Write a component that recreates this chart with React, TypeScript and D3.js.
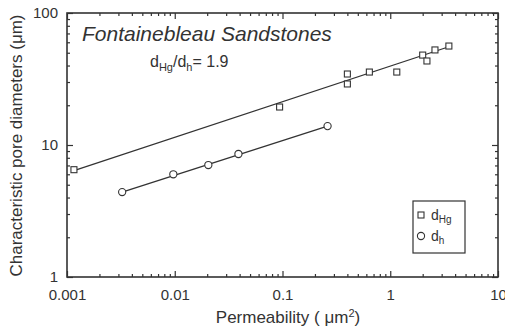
import { useEffect, useRef } from "react";
import * as d3 from "d3";

// d_Hg (squares), permeability in um^2 vs pore diameter in um
const hgPerm = [0.00116, 0.094, 0.4, 0.4, 0.64, 1.15, 2.0, 2.19, 2.6, 3.5];
const hgDiam = [6.5, 19.4, 34.5, 29.0, 35.7, 35.7, 48, 43.3, 52.5, 56.2];

// d_h (circles)
const hPerm = [0.00325, 0.0097, 0.0205, 0.039, 0.262];
const hDiam = [4.4, 6.0, 7.05, 8.55, 13.9];

// fitted lines, end points
const hgFitPerm = [0.00116, 3.5];
const hgFitDiam = [6.4, 55.5];
const hFitPerm = [0.00325, 0.262];
const hFitDiam = [4.4, 13.9];

const xTicks = [0.001, 0.01, 0.1, 1, 10];
const xTickLabels = ["0.001", "0.01", "0.1", "1", "10"];
const yTicks = [1, 10, 100];
const yTickLabels = ["1", "10", "100"];

const INK = "#333";
const FONT = "'Liberation Sans', Arial, sans-serif";

function minorTicks(lo: number, hi: number) {
  const out: number[] = [];
  for (let p = lo; p < hi; p *= 10) {
    for (let k = 2; k <= 9; k++) out.push(p * k);
  }
  return out;
}

export default function App() {
  const svgRef = useRef<SVGSVGElement>(null);

  useEffect(() => {
    if (!svgRef.current) return;
    const svg = d3.select(svgRef.current);
    svg.selectAll("*").remove();

    const left = 67;
    const right = 498;
    const top = 13;
    const bottom = 277;

    const x = d3.scaleLog().domain([0.001, 10]).range([left, right]);
    const y = d3.scaleLog().domain([1, 100]).range([bottom, top]);

    svg.append("rect").attr("width", 505).attr("height", 335).attr("fill", "#fff");

    const xMinor = minorTicks(0.001, 10);
    const yMinor = minorTicks(1, 100);

    const styleAxis = (sel: any) => {
      sel.select(".domain").remove();
      sel.selectAll("line").attr("stroke", INK).attr("stroke-width", 1.2);
      sel.selectAll("text")
        .attr("fill", INK)
        .attr("font-family", FONT)
        .attr("font-size", 15);
    };

    // bottom
    svg.append("g")
      .attr("transform", `translate(0,${bottom})`)
      .call(
        d3.axisBottom(x).tickValues(xTicks).tickSizeInner(-6).tickSizeOuter(0).tickPadding(12)
          .tickFormat((_, i) => xTickLabels[i])
      )
      .call(styleAxis);
    svg.append("g")
      .attr("transform", `translate(0,${bottom})`)
      .call(d3.axisBottom(x).tickValues(xMinor).tickSizeInner(-3).tickSizeOuter(0).tickFormat(() => ""))
      .call(styleAxis);
    // top
    svg.append("g")
      .attr("transform", `translate(0,${top})`)
      .call(d3.axisTop(x).tickValues(xTicks).tickSizeInner(-6).tickSizeOuter(0).tickFormat(() => ""))
      .call(styleAxis);
    svg.append("g")
      .attr("transform", `translate(0,${top})`)
      .call(d3.axisTop(x).tickValues(xMinor).tickSizeInner(-3).tickSizeOuter(0).tickFormat(() => ""))
      .call(styleAxis);
    // left
    svg.append("g")
      .attr("transform", `translate(${left},0)`)
      .call(
        d3.axisLeft(y).tickValues(yTicks).tickSizeInner(-6).tickSizeOuter(0).tickPadding(9)
          .tickFormat((_, i) => yTickLabels[i])
      )
      .call(styleAxis);
    svg.append("g")
      .attr("transform", `translate(${left},0)`)
      .call(d3.axisLeft(y).tickValues(yMinor).tickSizeInner(-3).tickSizeOuter(0).tickFormat(() => ""))
      .call(styleAxis);
    // right
    svg.append("g")
      .attr("transform", `translate(${right},0)`)
      .call(d3.axisRight(y).tickValues(yTicks).tickSizeInner(-6).tickSizeOuter(0).tickFormat(() => ""))
      .call(styleAxis);
    svg.append("g")
      .attr("transform", `translate(${right},0)`)
      .call(d3.axisRight(y).tickValues(yMinor).tickSizeInner(-3).tickSizeOuter(0).tickFormat(() => ""))
      .call(styleAxis);

    // frame
    svg.append("rect")
      .attr("x", left)
      .attr("y", top)
      .attr("width", right - left)
      .attr("height", bottom - top)
      .attr("fill", "none")
      .attr("stroke", INK)
      .attr("stroke-width", 1.6);

    // fit lines
    const line = d3.line<[number, number]>().x((d) => x(d[0])).y((d) => y(d[1]));
    const hgFit = hgFitPerm.map((p, i) => [p, hgFitDiam[i]] as [number, number]);
    const hFit = hFitPerm.map((p, i) => [p, hFitDiam[i]] as [number, number]);
    svg.append("path").attr("d", line(hgFit)).attr("fill", "none").attr("stroke", INK).attr("stroke-width", 1.3);
    svg.append("path").attr("d", line(hFit)).attr("fill", "none").attr("stroke", INK).attr("stroke-width", 1.3);

    // markers
    const sq = 6;
    svg.append("g")
      .selectAll("rect")
      .data(hgPerm.map((p, i) => [p, hgDiam[i]]))
      .join("rect")
      .attr("x", (d) => x(d[0]) - sq / 2)
      .attr("y", (d) => y(d[1]) - sq / 2)
      .attr("width", sq)
      .attr("height", sq)
      .attr("fill", "#fff")
      .attr("stroke", INK)
      .attr("stroke-width", 1.1);

    svg.append("g")
      .selectAll("circle")
      .data(hPerm.map((p, i) => [p, hDiam[i]]))
      .join("circle")
      .attr("cx", (d) => x(d[0]))
      .attr("cy", (d) => y(d[1]))
      .attr("r", 3.6)
      .attr("fill", "#fff")
      .attr("stroke", INK)
      .attr("stroke-width", 1.1);

    // title
    svg.append("text")
      .attr("x", 82)
      .attr("y", 41)
      .attr("font-family", FONT)
      .attr("font-style", "italic")
      .attr("font-size", 21)
      .attr("fill", INK)
      .text("Fontainebleau Sandstones");

    const ratio = svg.append("text")
      .attr("x", 150)
      .attr("y", 67)
      .attr("font-family", FONT)
      .attr("font-size", 16)
      .attr("fill", INK);
    ratio.append("tspan").text("d");
    ratio.append("tspan").attr("font-size", 11).attr("dy", 4).text("Hg");
    ratio.append("tspan").attr("dy", -4).text("/d");
    ratio.append("tspan").attr("font-size", 11).attr("dy", 4).text("h");
    ratio.append("tspan").attr("dy", -4).text("= 1.9");

    // axis titles
    svg.append("text")
      .attr("transform", `translate(22,${(8 + 283) / 2}) rotate(-90)`)
      .attr("text-anchor", "middle")
      .attr("font-family", FONT)
      .attr("font-size", 17)
      .attr("fill", INK)
      .text("Characteristic pore diameters (μm)");

    const xt = svg.append("text")
      .attr("x", 288)
      .attr("y", 323)
      .attr("text-anchor", "middle")
      .attr("font-family", FONT)
      .attr("font-size", 17)
      .attr("fill", INK);
    xt.append("tspan").text("Permeability ( μm");
    xt.append("tspan").attr("font-size", 11).attr("dy", -6).text("2");
    xt.append("tspan").attr("dy", 6).text(")");

    // legend
    const lg = svg.append("g");
    lg.append("rect")
      .attr("x", 413)
      .attr("y", 201)
      .attr("width", 52)
      .attr("height", 52)
      .attr("fill", "#fff")
      .attr("stroke", INK)
      .attr("stroke-width", 1.2);
    lg.append("rect")
      .attr("x", 421 - sq / 2)
      .attr("y", 215 - sq / 2)
      .attr("width", sq)
      .attr("height", sq)
      .attr("fill", "#fff")
      .attr("stroke", INK)
      .attr("stroke-width", 1.1);
    lg.append("circle")
      .attr("cx", 421)
      .attr("cy", 236)
      .attr("r", 3.6)
      .attr("fill", "#fff")
      .attr("stroke", INK)
      .attr("stroke-width", 1.1);
    const l1 = lg.append("text").attr("x", 431).attr("y", 220).attr("font-family", FONT).attr("font-size", 14).attr("fill", INK);
    l1.append("tspan").text("d");
    l1.append("tspan").attr("font-size", 10).attr("dy", 3).text("Hg");
    const l2 = lg.append("text").attr("x", 431).attr("y", 241).attr("font-family", FONT).attr("font-size", 14).attr("fill", INK);
    l2.append("tspan").text("d");
    l2.append("tspan").attr("font-size", 10).attr("dy", 3).text("h");
  }, []);

  return (
    <svg
      ref={svgRef}
      width={505}
      height={335}
      style={{ position: "absolute", left: 0, top: 0, display: "block" }}
    />
  );
}
